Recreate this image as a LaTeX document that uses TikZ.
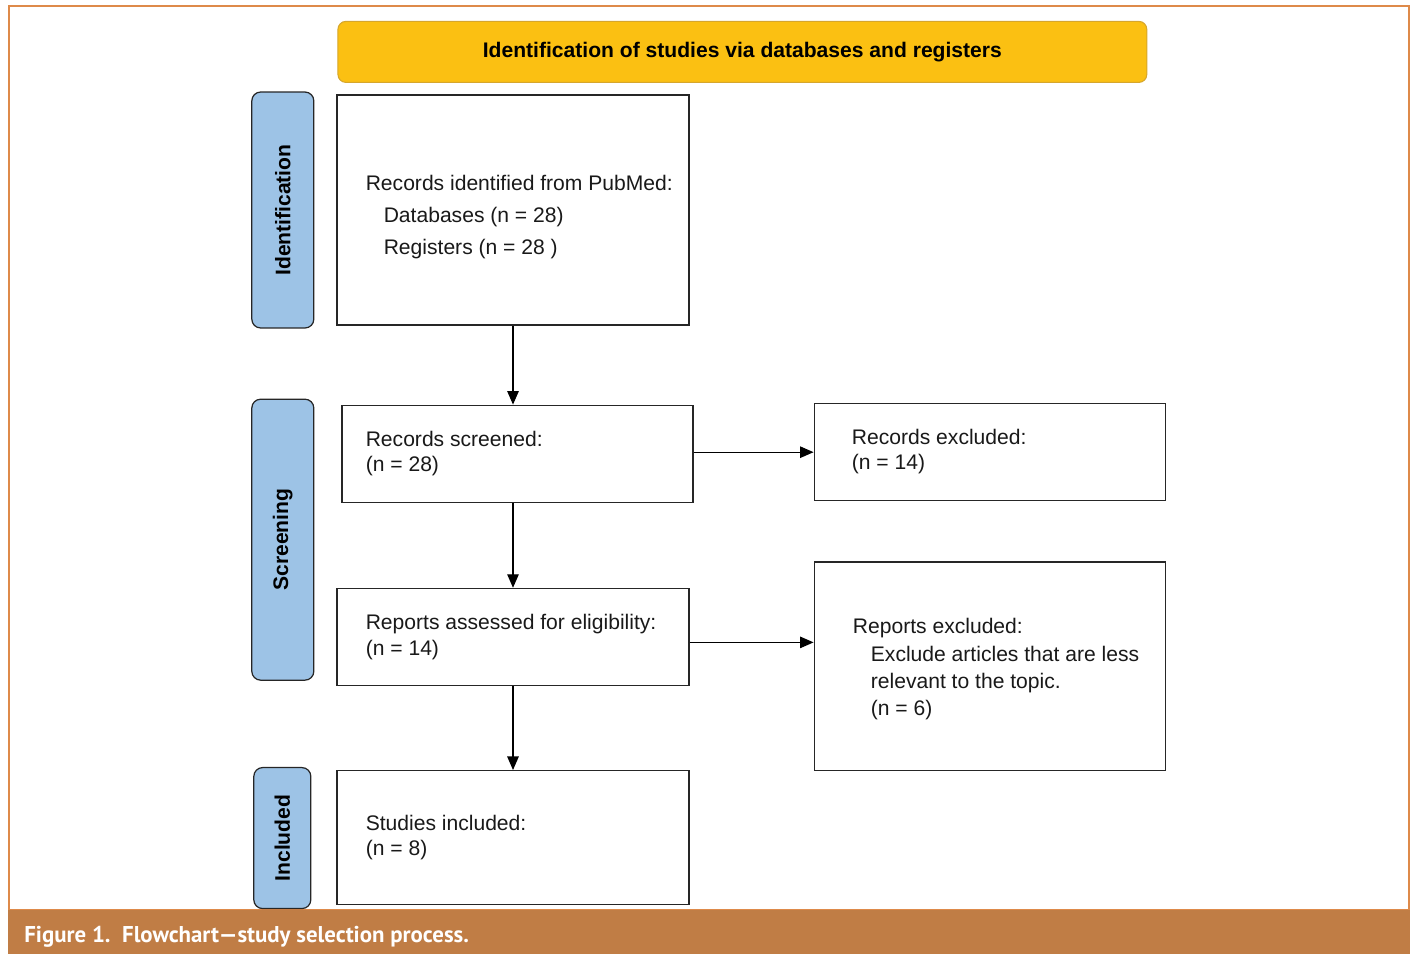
\documentclass[tikz,border=0pt]{standalone}
\usepackage{fontspec}
\setmainfont{Liberation Sans}
\newfontfamily\captionfont{PT Sans}
\usetikzlibrary{positioning,arrows.meta}

\definecolor{bannerfill}{HTML}{FBC012}
\definecolor{bannerline}{HTML}{D6A62C}
\definecolor{stagefill}{HTML}{9DC3E6}
\definecolor{framecol}{HTML}{DE8A4A}
\definecolor{capfill}{HTML}{C07D45}

\begin{document}
\begin{tikzpicture}[
        x=0.02cm, y=-0.02cm,
        box/.style={rectangle, draw=black!85, line width=0.7pt, inner sep=0pt},
        txt/.style={inner sep=0pt, align=left, text=black!90, font=\fontsize{12}{14.5}\selectfont},
        stage/.style={rectangle, draw=black!85, fill=stagefill, rounded corners=5pt, line width=0.7pt, inner sep=0pt, font=\bfseries\fontsize{12}{14}\selectfont},
        banner/.style={rectangle, draw=bannerline, fill=bannerfill, rounded corners=4.5pt, line width=0.6pt, minimum width=16.18cm, minimum height=1.22cm, font=\bfseries\fontsize{12}{14}\selectfont},
        arrow/.style={-{Triangle[length=0.27cm,width=0.23cm]}, line width=0.65pt}
    ]

        \useasboundingbox (0,0) rectangle (1412,954);
        \draw[framecol, line width=0.6pt] (9,6) rectangle (1409,910);
        \fill[capfill] (8,910) rectangle (1410,954);
        \node (caption) [anchor=west, inner sep=0pt, text=white, font=\captionfont\bfseries\fontsize{13}{15}\selectfont] at (24,937) {Figure 1.\ \ Flowchart—study selection process.};

        % main column
        \node (ident) [box, minimum width=7.04cm, minimum height=4.6cm] at (513,210) {};
        \node (screened) [box, minimum width=7.02cm, minimum height=1.94cm, below=1.58cm of ident, xshift=0.09cm] {};
        \node (assessed) [box, minimum width=7.04cm, minimum height=1.94cm, below=1.7cm of screened, xshift=-0.09cm] {};
        \node (included) [box, minimum width=7.04cm, minimum height=2.68cm, below=1.68cm of assessed] {};

        % exclusions
        \node (recexcl) [box, minimum width=7.02cm, minimum height=1.94cm, right=2.4cm of screened, yshift=0.04cm] {};
        \node (repexcl) [box, minimum width=7.02cm, minimum height=4.18cm, right=2.48cm of assessed, yshift=-0.59cm] {};

        \node (head) [banner, above=0.26cm of ident.north west, anchor=south west, xshift=0.02cm, yshift=-0.03cm] {Identification of studies via databases and registers};

        % stages
        \node (identlab) [stage, minimum width=1.24cm, minimum height=4.72cm, left=0.44cm of ident] {\rotatebox{90}{Identification}};
        \node (screenlab) [stage, minimum width=1.24cm, minimum height=5.62cm, left=0.54cm of screened.north west, anchor=north east, yshift=0.12cm] {\rotatebox{90}{Screening}};
        \node (incllab) [stage, minimum width=1.14cm, minimum height=2.82cm, left=0.5cm of included, yshift=-0.01cm] {\rotatebox{90}{Included}};

        % texts
        \node (identtxt) [txt, right=0.58cm of ident.west, yshift=-0.14cm] {Records identified from PubMed:\\[3.6pt]\hspace*{0.36cm}Databases (n = 28)\\[3.6pt]\hspace*{0.36cm}Registers (n = 28 )};
        \node (screentxt) [txt, right=0.48cm of screened.west] {Records screened:\\(n = 28)};
        \node (recexcltxt) [txt, right=0.76cm of recexcl.west] {Records excluded:\\(n = 14)};
        \node (assessedtxt) [txt, right=0.58cm of assessed.west] {Reports assessed for eligibility:\\(n = 14)};
        \node (repexcltxt) [txt, right=0.78cm of repexcl.west, yshift=-0.06cm] {Reports excluded:\\[1pt]\hspace*{0.36cm}Exclude articles that are less\\[1pt]\hspace*{0.36cm}relevant to the topic.\\[1pt]\hspace*{0.36cm}(n = 6)};
        \node (includedtxt) [txt, right=0.58cm of included.west] {Studies included:\\(n = 8)};

        \draw[arrow] (ident.south) -- (ident.south |- screened.north);
        \draw[arrow] (assessed.north |- screened.south) -- (assessed.north);
        \draw[arrow] (assessed) -- (included);
        \draw[arrow] ([yshift=0.03cm]screened.east) -- ([yshift=0.03cm]screened.east -| recexcl.west);
        \draw[arrow] ([yshift=-0.11cm]assessed.east) -- ([yshift=-0.11cm]assessed.east -| repexcl.west);

    \end{tikzpicture}
\end{document}
